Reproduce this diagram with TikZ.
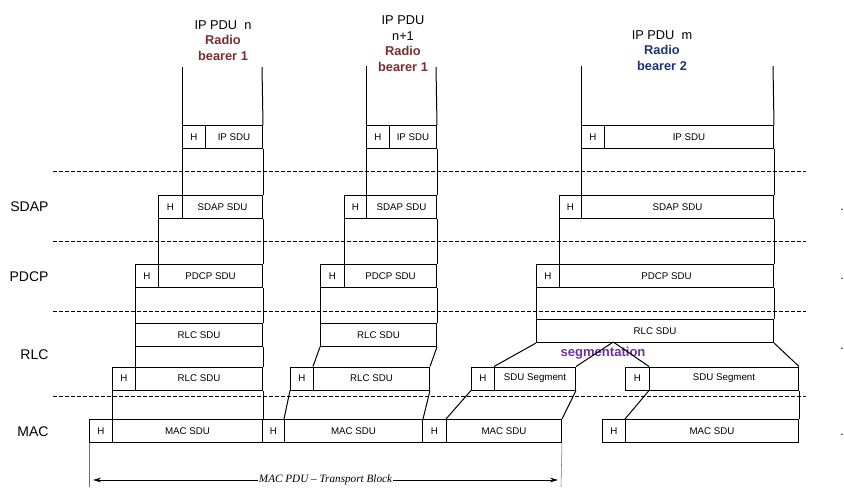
\documentclass[tikz,border=0pt]{standalone}
\usepackage{fontspec}
\setmainfont{Liberation Sans}
\newfontfamily\pduserif{Liberation Serif}
\usetikzlibrary{arrows.meta}

\definecolor{bearerred}{RGB}{122,46,46}
\definecolor{bearerblue}{RGB}{30,52,118}
\definecolor{segpurple}{RGB}{112,48,160}
\definecolor{edgebrown}{RGB}{150,96,96}

\tikzset{every picture/.style={line width=0.75pt}}
\tikzset{
  cell/.style={draw, anchor=north west, inner sep=0pt, minimum height=17.25pt, font=\fontsize{7.3}{8.5}\selectfont},
  wd/.style={minimum width=#1*0.75pt},
  layerline/.style={line width=0.6pt, dash pattern=on 3pt off 1.5pt},
  layerlbl/.style={anchor=east, inner sep=0pt, font=\fontsize{10.5}{12}\selectfont},
  pdulbl/.style={align=center, inner sep=0pt, font=\fontsize{9.6}{11.6}\selectfont},
  edgeline/.style={draw=edgebrown, line width=0.4pt},
  tbarrow/.style={-{Stealth[length=6pt,width=3.5pt]}},
  rowmark/.style={font=\fontsize{9}{10}\selectfont, inner sep=0pt},
}

\begin{document}
\begin{tikzpicture}[x=0.75pt,y=0.75pt,yscale=-1,xscale=1]
\useasboundingbox (0,0) rectangle (844,487);

% layer separators
\draw[layerline] (53,171.7) -- (806,171.7);
\draw[layerline] (53,241) -- (806,241);
\draw[layerline] (53,311) -- (806,311);
\draw[layerline] (53,396.7) -- (806,396.7);

% layer names
\node[layerlbl] (lsdap) at (49,206.7) {SDAP};
\node[layerlbl] (lpdcp) at (49,276.7) {PDCP};
\node[layerlbl] (lrlc) at (49,354.3) {RLC};
\node[layerlbl] (lmac) at (49,431.7) {MAC};

% IP packets
\node[pdulbl] (pdun) at (223,40.5) {IP PDU\ \ n\\\textcolor{bearerred}{\textbf{Radio}}\\\textcolor{bearerred}{\textbf{bearer 1}}};
\node[pdulbl] (pdun1) at (403,43.5) {IP PDU\\n+1\\\textcolor{bearerred}{\textbf{Radio}}\\\textcolor{bearerred}{\textbf{bearer 1}}};
\node[pdulbl] (pdum) at (662,50.5) {IP PDU\ \ m\\\textcolor{bearerblue}{\textbf{Radio}}\\\textcolor{bearerblue}{\textbf{bearer 2}}};

% first column
\node[cell,wd=23] (ip1h) at (182,125) {H};
\node[cell,wd=57] (ip1) at (205,125) {IP SDU};
\node[cell,wd=24] (sdap1h) at (158,195) {H};
\node[cell,wd=80] (sdap1) at (182,195) {SDAP SDU};
\node[cell,wd=23] (pdcp1h) at (135,264) {H};
\node[cell,wd=104] (pdcp1) at (158,264) {PDCP SDU};
\node[cell,wd=127] (rlc1) at (135,323) {RLC SDU};
\node[cell,wd=23] (rlch1) at (112,366.5) {H};
\node[cell,wd=127] (rlcs1) at (135,366.5) {RLC SDU};
\node[cell,wd=23] (mach1) at (89,419) {H};
\node[cell,wd=150] (mac1) at (112,419) {MAC SDU};

% second column
\node[cell,wd=23] (ip2h) at (366,125) {H};
\node[cell,wd=47] (ip2) at (389,125) {IP SDU};
\node[cell,wd=22] (sdap2h) at (344,195) {H};
\node[cell,wd=70] (sdap2) at (366,195) {SDAP SDU};
\node[cell,wd=24] (pdcp2h) at (320,264) {H};
\node[cell,wd=92] (pdcp2) at (344,264) {PDCP SDU};
\node[cell,wd=116] (rlc2) at (320,323) {RLC SDU};
\node[cell,wd=23] (rlch2) at (290,366.5) {H};
\node[cell,wd=116] (rlcs2) at (313,366.5) {RLC SDU};
\node[cell,wd=22] (mach2) at (262,419) {H};
\node[cell,wd=138] (mac2) at (284,419) {MAC SDU};

% third column
\node[cell,wd=23] (ip3h) at (581,125) {H};
\node[cell,wd=169] (ip3) at (604,125) {IP SDU};
\node[cell,wd=22] (sdap3h) at (559,195) {H};
\node[cell,wd=192] (sdap3) at (581,195) {SDAP SDU};
\node[cell,wd=23] (pdcp3h) at (536,264) {H};
\node[cell,wd=214] (pdcp3) at (559,264) {PDCP SDU};
\node[cell,wd=237] (rlc3) at (536,319) {RLC SDU};
\node[cell,wd=23] (segh1) at (471,366.5) {H};
\node[cell,wd=81] (seg1) at (494,366.5) {SDU Segment};
\node[cell,wd=24] (segh2) at (625,366.5) {H};
\node[cell,wd=149] (seg2) at (649,366.5) {SDU Segment};
\node[cell,wd=24] (mach3) at (422,419) {H};
\node[cell,wd=115] (mac3) at (446,419) {MAC SDU};
\node[cell,wd=23] (mach4) at (602,419) {H};
\node[cell,wd=173] (mac4) at (625,419) {MAC SDU};

\node[font=\bfseries\fontsize{9.8}{11}\selectfont, text=segpurple, inner sep=0pt] (segtxt) at (603,353) {segmentation};

% free ends
\coordinate (top1l) at (182,67);
\coordinate (top1r) at (262,67);
\coordinate (top2l) at (366,66);
\coordinate (top2r) at (436,67);
\coordinate (top3l) at (581,66);
\coordinate (top3r) at (773,66);
\coordinate (split) at (613.3,342);

% first column links
\draw (top1l) -- (ip1h.north west);
\draw (top1r) -- (ip1.north east);
\draw (ip1h.south west) -- (sdap1.north west);
\draw (ip1.south east) -- (sdap1.north east);
\draw (sdap1h.south west) -- (pdcp1.north west);
\draw (sdap1.south east) -- (pdcp1.north east);
\draw (pdcp1h.south west) -- (rlc1.north west);
\draw (pdcp1.south east) -- (rlc1.north east);
\draw (rlc1.south west) -- (rlcs1.north west);
\draw (rlc1.south east) -- (rlcs1.north east);
\draw (rlch1.south west) -- (mac1.north west);
\draw (rlcs1.south east) -- (mac1.north east);

% second column links
\draw (top2l) -- (ip2h.north west);
\draw (top2r) -- (ip2.north east);
\draw (ip2h.south west) -- (sdap2.north west);
\draw (ip2.south east) -- (sdap2.north east);
\draw (sdap2h.south west) -- (pdcp2.north west);
\draw (sdap2.south east) -- (pdcp2.north east);
\draw (pdcp2h.south west) -- (rlc2.north west);
\draw (pdcp2.south east) -- (rlc2.north east);
\draw (rlc2.south west) -- (rlcs2.north west);
\draw (rlc2.south east) -- (rlcs2.north east);
\draw (rlch2.south west) -- (mac2.north west);
\draw (rlcs2.south east) -- (mac2.north east);

% third column links
\draw (top3l) -- (ip3h.north west);
\draw (top3r) -- (ip3.north east);
\draw (ip3h.south west) -- (sdap3.north west);
\draw (ip3.south east) -- (sdap3.north east);
\draw (sdap3h.south west) -- (pdcp3.north west);
\draw (sdap3.south east) -- (pdcp3.north east);
\draw (pdcp3h.south west) -- (rlc3.north west);
\draw (pdcp3.south east) -- (rlc3.north east);
\draw (rlc3.south west) -- (seg1.north west);
\draw (split) -- (seg1.north east);
\draw (split) -- (seg2.north west);
\draw (rlc3.south east) -- (seg2.north east);
\draw (segh1.south west) -- (mac3.north west);
\draw (seg1.south east) -- (mac3.north east);
\draw (seg2.south west) -- (mac4.north west);
\draw (seg2.south east) -- (mac4.north east);

% transport block
\coordinate (tbL) at (89,487);
\coordinate (tbR) at (561,487);
\coordinate (pduL) at (93,480);
\coordinate (pduR) at (558,480);
\draw[edgeline] (mach1.south west) -- (tbL);
\draw[edgeline] (mac3.south east) -- (tbR);
\node[font=\pduserif\itshape\fontsize{8.4}{10}\selectfont, inner sep=0.5pt] (tblbl) at (325.5,480) {MAC PDU \textendash{} Transport Block};
\draw[tbarrow] (tblbl.west) -- (pduL);
\draw[tbarrow] (tblbl.east) -- (pduR);

% row marks
\node[rowmark] (dot1) at (842,210) {.};
\node[rowmark] (dot2) at (842,279) {.};
\node[rowmark] (dot3) at (842,349) {.};
\node[rowmark] (dot4) at (842,435) {.};

\end{tikzpicture}
\end{document}
